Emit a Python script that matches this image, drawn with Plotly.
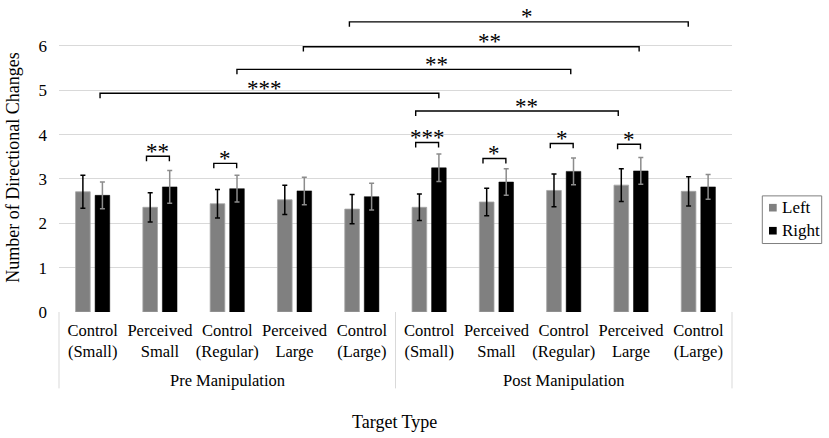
import plotly.graph_objects as go

# ---------------- data ----------------
groups = ["Pre Manipulation", "Post Manipulation"]
target_labels = ["Control<br>(Small)", "Perceived<br>Small", "Control<br>(Regular)",
                 "Perceived<br>Large", "Control<br>(Large)"]
categories = target_labels * 2

left_vals = [2.71, 2.36, 2.44, 2.53, 2.32, 2.36, 2.48, 2.74, 2.86, 2.72]
left_err = [0.37, 0.33, 0.32, 0.33, 0.33, 0.30, 0.31, 0.37, 0.37, 0.33]
right_vals = [2.63, 2.82, 2.78, 2.73, 2.60, 3.25, 2.93, 3.17, 3.18, 2.82]
right_err = [0.30, 0.37, 0.30, 0.31, 0.30, 0.31, 0.30, 0.30, 0.30, 0.28]

y_ticks = [0, 1, 2, 3, 4, 5, 6]

# within-pair significance: (category index, bracket height, stars)
pair_sig = [(1, 3.51, "**"), (2, 3.35, "*"), (5, 3.82, "***"),
            (6, 3.46, "*"), (7, 3.80, "*"), (8, 3.78, "*")]
# between-condition significance: (start x, end x, height, stars, star x)
long_sig = [(0.11, 5.144, 4.93, "***", 2.55),
            (2.144, 7.104, 5.47, "**", 5.105),
            (3.131, 8.12, 5.98, "**", 5.89),
            (3.815, 8.85, 6.54, "*", 6.45),
            (4.80, 7.81, 4.53, "**", 6.44)]

# ---------------- layout geometry ----------------
W, H = 829, 438
L, R, T, B = 59, 97, 17, 126.3
pw, ph = W - L - R, H - T - B
def px(x):
    return (x - L) / pw
def py(y):
    return (H - B - y) / ph

serif = "Liberation Serif, Times New Roman, serif"
x_idx = list(range(len(categories)))

fig = go.Figure()
fig.add_trace(go.Bar(
    x=x_idx, y=left_vals, name="Left",
    marker=dict(color="#808080", line=dict(color="#a6a6a6", width=0.8)),
    error_y=dict(type="data", array=left_err, color="#000000", thickness=1.5, width=2.5),
    showlegend=False))
fig.add_trace(go.Bar(
    x=x_idx, y=right_vals, name="Right",
    marker=dict(color="#000000", line=dict(color="#000000", width=0.5)),
    error_y=dict(type="data", array=right_err, color="#8c8c8c", thickness=1.5, width=2.5),
    showlegend=False))

shapes = []
annotations = []
LEG = 0.11

def bracket(x0, x1, y):
    shapes.append(dict(type="path", xref="x", yref="y",
                       path=f"M {x0},{y-LEG} L {x0},{y} L {x1},{y} L {x1},{y-LEG}",
                       line=dict(color="#000000", width=1.4)))

def stars(x, y, txt):
    annotations.append(dict(x=x, y=y, xref="x", yref="y", text=txt,
                            showarrow=False, xanchor="center", yanchor="middle", yshift=5,
                            font=dict(family=serif, size=23, color="#000000")))

for i, h, s in pair_sig:
    x0, x1 = i - 0.2, i + 0.14
    bracket(x0, x1, h)
    stars((x0 + x1) / 2, h, s)

for x0, x1, h, s, sx in long_sig:
    bracket(x0, x1, h)
    stars(sx, h, s)

# category dividers
for xp in [0, 0.5, 1]:
    shapes.append(dict(type="line", xref="paper", yref="paper", x0=xp, x1=xp,
                       y0=0, y1=py(388), line=dict(color="#d9d9d9", width=1)))

# group labels
for gi, g in enumerate(groups):
    annotations.append(dict(x=0.25 + 0.5 * gi, y=py(380), xref="paper", yref="paper",
                            text=g, showarrow=False, xanchor="center", yanchor="middle",
                            font=dict(family=serif, size=16.5, color="#000000")))

annotations.append(dict(x=px(394), y=py(421.7), xref="paper", yref="paper",
                        text="Target Type", showarrow=False, xanchor="center",
                        yanchor="middle",
                        font=dict(family=serif, size=18, color="#000000")))
annotations.append(dict(x=px(13.5), y=py(168), xref="paper", yref="paper",
                        text="Number of Directional Changes", textangle=-90,
                        showarrow=False, xanchor="center", yanchor="middle",
                        font=dict(family=serif, size=18, color="#000000")))

# legend (drawn)
shapes.append(dict(type="rect", xref="paper", yref="paper", x0=px(762.3), x1=px(821.7),
                   y0=py(243.3), y1=py(195.7), line=dict(color="#7f7f7f", width=1),
                   fillcolor="rgba(0,0,0,0)"))
for name, col, yc in [("Left", "#808080", 207.5), ("Right", "#000000", 230.5)]:
    shapes.append(dict(type="rect", xref="paper", yref="paper", x0=px(769), x1=px(776.7),
                       y0=py(yc + 3.8), y1=py(yc - 3.8), line=dict(width=0), fillcolor=col))
    annotations.append(dict(x=px(779.5), y=py(yc), xref="paper", yref="paper", text=name,
                            showarrow=False, xanchor="left", yanchor="middle",
                            font=dict(family=serif, size=17, color="#000000")))

fig.update_layout(
    width=W, height=H,
    margin=dict(l=L, r=R, t=T, b=B, pad=0),
    paper_bgcolor="white", plot_bgcolor="white",
    barmode="group", bargap=0.42, bargroupgap=0.25,
    shapes=shapes, annotations=annotations,
    font=dict(family=serif, color="#000000"),
    xaxis=dict(range=[-0.5, 9.5], tickvals=x_idx, ticktext=categories,
               showgrid=False, zeroline=False, showline=False, ticks="",
               tickfont=dict(family=serif, size=16.5, color="#000000"),
               ticklabelstandoff=6),
    yaxis=dict(range=[0, 6.65], tickvals=y_ticks, showgrid=True,
               gridcolor="#d9d9d9", gridwidth=1, zeroline=False, showline=False,
               ticks="", tickfont=dict(family=serif, size=17, color="#000000"),
               ticklabelstandoff=11),
)

fig.write_html("out.html",
               config={"displayModeBar": False},
               post_script="document.body.style.margin='0';document.body.style.padding='0';"
                           "document.documentElement.style.overflow='hidden';")
